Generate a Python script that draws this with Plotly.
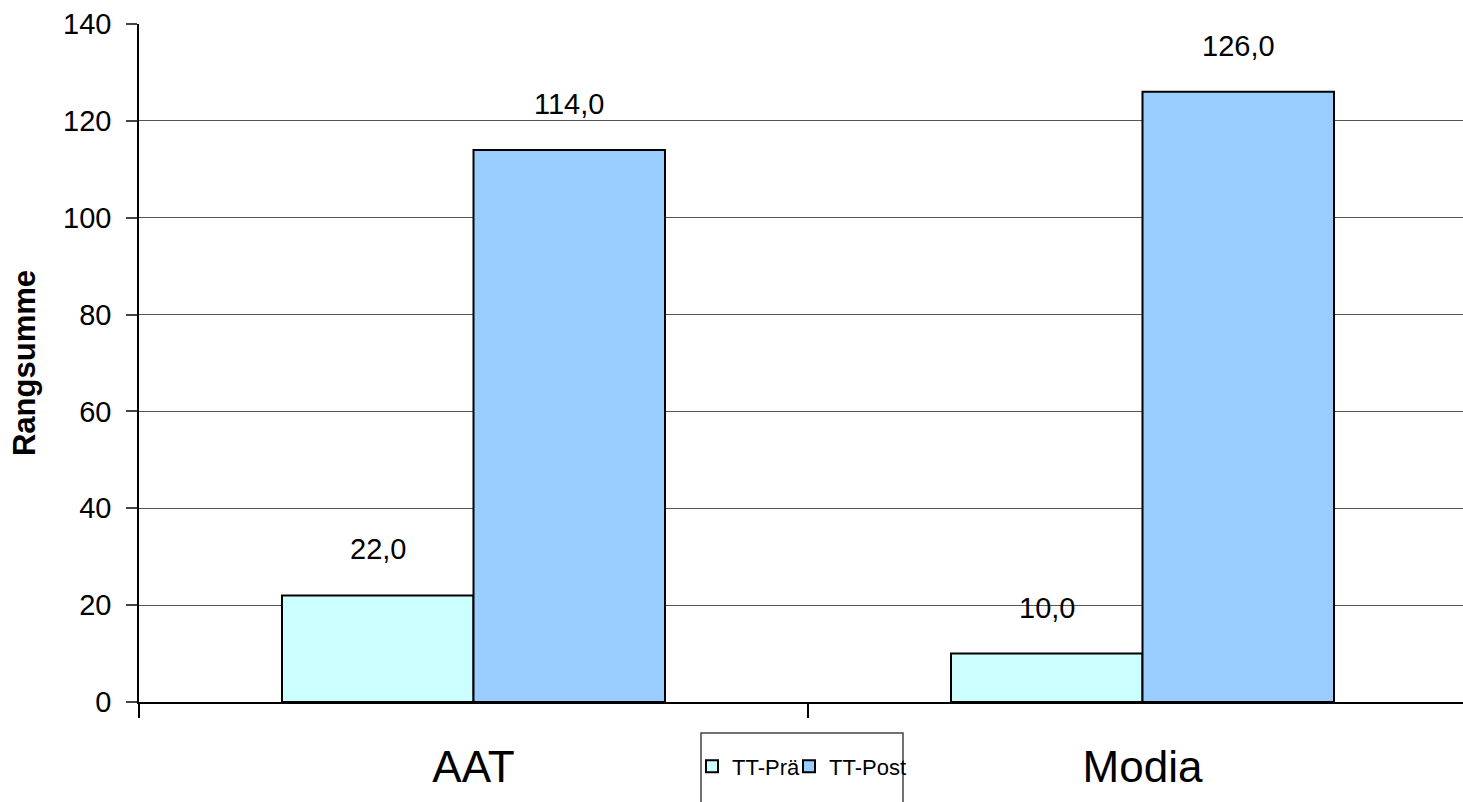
import plotly.graph_objects as go

categories = ["AAT", "Modia"]
cat_pos = [0, 1]
pre_values = [22.0, 10.0]
post_values = [114.0, 126.0]
series_names = ["TT-Prä", "TT-Post"]
y_ticks = [0, 20, 40, 60, 80, 100, 120, 140]

FONT = "Liberation Sans, Arial, sans-serif"

def fmt(v):
    return f"{v:.1f}".replace(".", ",")

fig = go.Figure()
fig.add_trace(go.Bar(x=cat_pos, y=pre_values, name=series_names[0], legend="legend",
                     marker=dict(color="#CCFFFF", line=dict(color="#000000", width=2))))
fig.add_trace(go.Bar(x=cat_pos, y=post_values, name=series_names[1], legend="legend2",
                     marker=dict(color="#99CCFF", line=dict(color="#000000", width=2))))

# data labels
n = len(series_names)
for i, vals in enumerate([pre_values, post_values]):
    for xc, v in zip(cat_pos, vals):
        off = (i - (n - 1) / 2) * 0.2862
        fig.add_annotation(x=xc + off, y=v, text=fmt(v), showarrow=False,
                           yanchor="middle", yshift=46,
                           font=dict(family=FONT, size=29, color="#000000"))

legend_style = dict(orientation="h", y=-0.064, xanchor="left", yanchor="top",
                    font=dict(family=FONT, size=22, color="#000000"),
                    bgcolor="rgba(0,0,0,0)", borderwidth=0, itemwidth=30)

fig.update_layout(
    width=1463, height=802,
    margin=dict(l=139, r=0, t=24, b=100),
    paper_bgcolor="white", plot_bgcolor="white",
    barmode="group", bargap=0.4275, bargroupgap=0,
    font=dict(family=FONT, color="#000000"),
    showlegend=True,
    legend=dict(x=(692 - 139) / 1324, **legend_style),
    legend2=dict(x=(789 - 139) / 1324, **legend_style),
)

fig.update_xaxes(
    range=[-0.5, -0.5 + 1324 / 669],
    tickvals=cat_pos, ticktext=categories,
    ticks="", tickfont=dict(family=FONT, size=44, color="#000000"),
    ticklabelstandoff=25,
    showline=True, linecolor="#000000", linewidth=1.5,
    showgrid=False, zeroline=False,
    minor=dict(tickvals=[-0.5, 0.5, 1.5], ticks="outside", ticklen=14,
               tickcolor="#000000", tickwidth=1.5, showgrid=False),
)

fig.update_yaxes(
    range=[0, 140], tickvals=y_ticks,
    ticks="outside", ticklen=11, tickcolor="#444444", tickwidth=1.5,
    tickfont=dict(family=FONT, size=29, color="#000000"),
    ticklabelstandoff=9,
    showline=True, linecolor="#000000", linewidth=1.5,
    showgrid=True, gridcolor="#555555", gridwidth=1.2,
    zeroline=False,
    title=dict(text="<b>Rangsumme</b>", font=dict(family=FONT, size=31, color="#000000"), standoff=18),
)

# legend frame (bottom runs off the page like the reference)
fig.add_shape(type="rect", xref="paper", yref="paper",
              x0=(701 - 139) / 1324, x1=(903 - 139) / 1324,
              y0=-0.2, y1=(702 - 733) / 678,
              line=dict(color="#444444", width=1.5), fillcolor="rgba(0,0,0,0)")

fig.write_html("out.html")
